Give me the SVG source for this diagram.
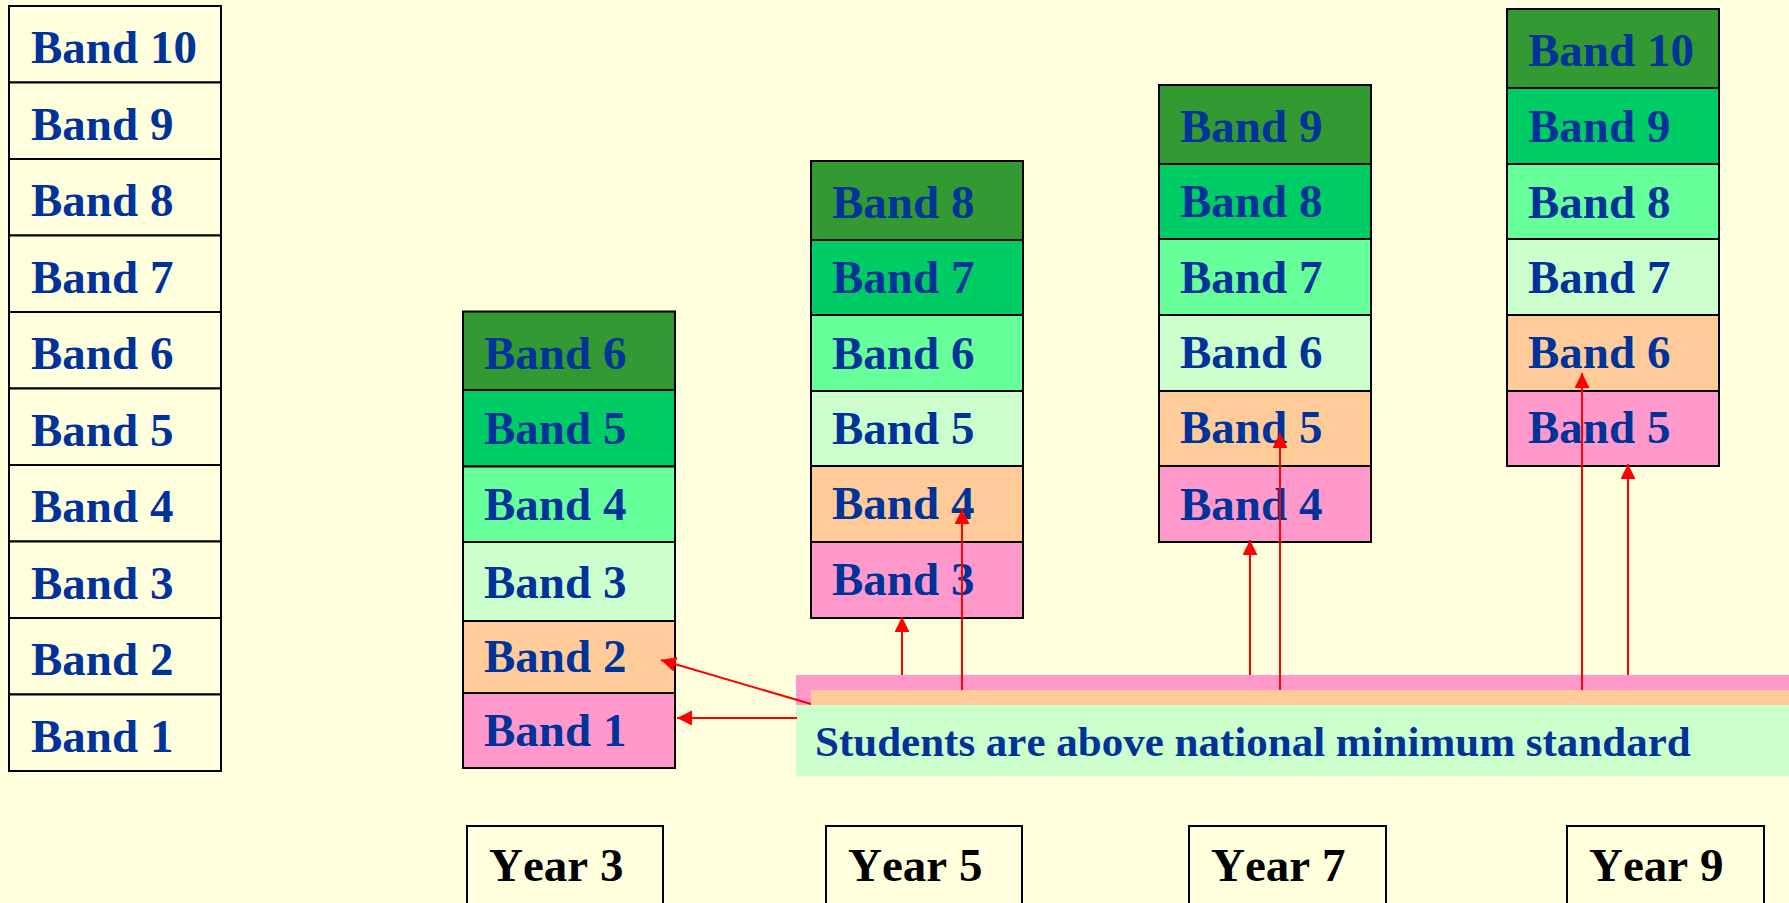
<svg xmlns="http://www.w3.org/2000/svg" width="1789" height="903" viewBox="0 0 1789 903">
<defs>
<style>
.c{stroke:#000;stroke-width:2}
.t{font-family:"Liberation Serif","Times New Roman",serif;font-weight:bold;font-size:47px;fill:#003399;font-kerning:none}
.y{font-family:"Liberation Serif","Times New Roman",serif;font-weight:bold;font-size:47px;fill:#000;font-kerning:none}
.s{font-family:"Liberation Serif","Times New Roman",serif;font-weight:bold;font-size:43px;fill:#003399;font-kerning:none}
.w{fill:#FFFFDD}
.g1{fill:#339933}.g2{fill:#00CC66}.g3{fill:#66FF99}.g4{fill:#CCFFCC}.pe{fill:#FFCC99}.pk{fill:#FF99CC}
.a{stroke:#FF0000;stroke-width:2;fill:none;marker-end:url(#ah)}
</style>
<marker id="ah" markerWidth="16" markerHeight="16" refX="15" refY="7.5" orient="auto" markerUnits="userSpaceOnUse">
<path d="M0,0 L15,7.5 L0,15 Z" fill="#FF0000"/>
</marker>
</defs>
<rect width="1789" height="903" fill="#FFFFDD"/>

<g id="scale">
<rect class="c w" x="9" y="6" width="212" height="76.5"/><text class="t" x="31" y="63">Band 10</text>
<rect class="c w" x="9" y="82.5" width="212" height="76.5"/><text class="t" x="31" y="139.5">Band 9</text>
<rect class="c w" x="9" y="159" width="212" height="76.5"/><text class="t" x="31" y="216">Band 8</text>
<rect class="c w" x="9" y="235.5" width="212" height="76.5"/><text class="t" x="31" y="292.5">Band 7</text>
<rect class="c w" x="9" y="312" width="212" height="76.5"/><text class="t" x="31" y="369">Band 6</text>
<rect class="c w" x="9" y="388.5" width="212" height="76.5"/><text class="t" x="31" y="445.5">Band 5</text>
<rect class="c w" x="9" y="465" width="212" height="76.5"/><text class="t" x="31" y="522">Band 4</text>
<rect class="c w" x="9" y="541.5" width="212" height="76.5"/><text class="t" x="31" y="598.5">Band 3</text>
<rect class="c w" x="9" y="618" width="212" height="76.5"/><text class="t" x="31" y="675">Band 2</text>
<rect class="c w" x="9" y="694.5" width="212" height="76.5"/><text class="t" x="31" y="751.5">Band 1</text>
</g>

<g id="year3-bands">
<rect class="c g1" x="463" y="311.5" width="212" height="78.5"/><text class="t" x="484" y="369">Band 6</text>
<rect class="c g2" x="463" y="390" width="212" height="76.5"/><text class="t" x="484" y="444">Band 5</text>
<rect class="c g3" x="463" y="466.5" width="212" height="75.5"/><text class="t" x="484" y="520">Band 4</text>
<rect class="c g4" x="463" y="542" width="212" height="79"/><text class="t" x="484" y="598">Band 3</text>
<rect class="c pe" x="463" y="621" width="212" height="72"/><text class="t" x="484" y="672">Band 2</text>
<rect class="c pk" x="463" y="693" width="212" height="75"/><text class="t" x="484" y="746">Band 1</text>
</g>

<g id="year5-bands">
<rect class="c g1" x="811" y="161" width="212" height="79"/><text class="t" x="832" y="218">Band 8</text>
<rect class="c g2" x="811" y="240" width="212" height="75"/><text class="t" x="832" y="293">Band 7</text>
<rect class="c g3" x="811" y="315" width="212" height="76"/><text class="t" x="832" y="369">Band 6</text>
<rect class="c g4" x="811" y="391" width="212" height="75"/><text class="t" x="832" y="444">Band 5</text>
<rect class="c pe" x="811" y="466" width="212" height="76"/><text class="t" x="832" y="519">Band 4</text>
<rect class="c pk" x="811" y="542" width="212" height="76"/><text class="t" x="832" y="595">Band 3</text>
</g>

<g id="year7-bands">
<rect class="c g1" x="1159" y="85" width="212" height="79"/><text class="t" x="1180" y="142">Band 9</text>
<rect class="c g2" x="1159" y="164" width="212" height="75"/><text class="t" x="1180" y="217">Band 8</text>
<rect class="c g3" x="1159" y="239" width="212" height="76"/><text class="t" x="1180" y="293">Band 7</text>
<rect class="c g4" x="1159" y="315" width="212" height="76"/><text class="t" x="1180" y="368">Band 6</text>
<rect class="c pe" x="1159" y="391" width="212" height="75"/><text class="t" x="1180" y="443">Band 5</text>
<rect class="c pk" x="1159" y="466" width="212" height="76"/><text class="t" x="1180" y="520">Band 4</text>
</g>

<g id="year9-bands">
<rect class="c g1" x="1507" y="9" width="212" height="79"/><text class="t" x="1528" y="66">Band 10</text>
<rect class="c g2" x="1507" y="88" width="212" height="76"/><text class="t" x="1528" y="142">Band 9</text>
<rect class="c g3" x="1507" y="164" width="212" height="75"/><text class="t" x="1528" y="218">Band 8</text>
<rect class="c g4" x="1507" y="239" width="212" height="76"/><text class="t" x="1528" y="293">Band 7</text>
<rect class="c pe" x="1507" y="315" width="212" height="76"/><text class="t" x="1528" y="368">Band 6</text>
<rect class="c pk" x="1507" y="391" width="212" height="75"/><text class="t" x="1528" y="443">Band 5</text>
</g>

<g id="banner">
<rect class="pk" x="796" y="675" width="993" height="30"/>
<rect class="pe" x="811" y="690" width="978" height="15"/>
<rect class="g4" x="796" y="705" width="993" height="71"/>
<text class="s" x="815" y="756">Students are above national minimum standard</text>
</g>

<g id="connectors">
<line class="a" x1="811" y1="704" x2="661" y2="660"/>
<line class="a" x1="797" y1="718" x2="677" y2="718"/>
<line class="a" x1="902" y1="675" x2="902" y2="617"/>
<line class="a" x1="962" y1="690" x2="962" y2="509"/>
<line class="a" x1="1250" y1="675" x2="1250" y2="540"/>
<line class="a" x1="1280" y1="690" x2="1280" y2="433"/>
<line class="a" x1="1582" y1="690" x2="1582" y2="373"/>
<line class="a" x1="1628" y1="675" x2="1628" y2="464"/>
</g>

<g id="year3"><rect class="c w" x="467" y="826" width="196" height="90"/><text class="y" x="489" y="881">Year 3</text></g>
<g id="year5"><rect class="c w" x="826" y="826" width="196" height="90"/><text class="y" x="848" y="881">Year 5</text></g>
<g id="year7"><rect class="c w" x="1189" y="826" width="197" height="90"/><text class="y" x="1211" y="881">Year 7</text></g>
<g id="year9"><rect class="c w" x="1567" y="826" width="197" height="90"/><text class="y" x="1589" y="881">Year 9</text></g>
</svg>
